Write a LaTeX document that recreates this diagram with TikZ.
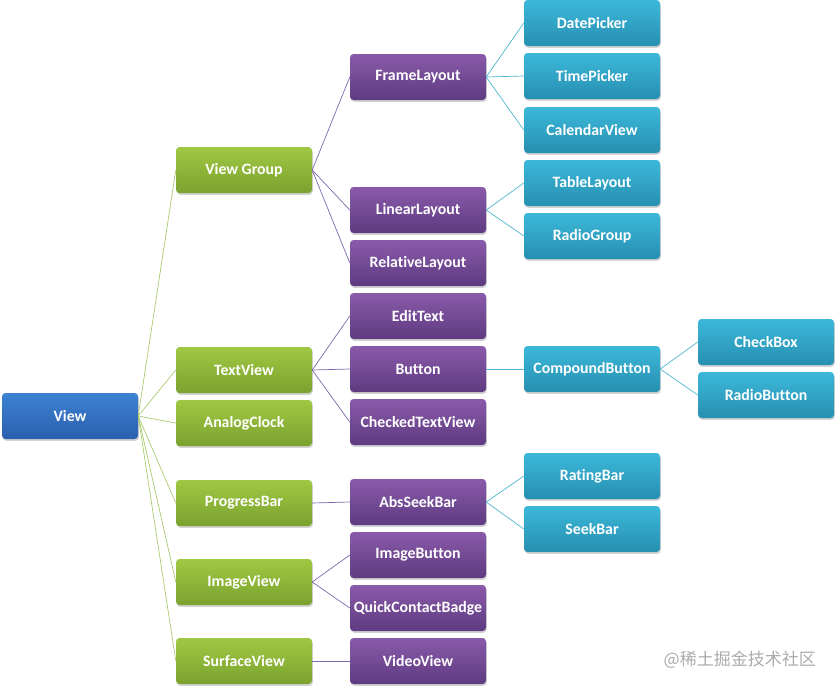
\documentclass[tikz,border=0pt]{standalone}
\usepackage{fontspec}
\setmainfont[Ligatures=NoCommon]{Carlito}
\newfontfamily\cjk{Noto Sans CJK SC}
\usetikzlibrary{shadows}
\definecolor{bluetop}{HTML}{3D82D2}
\definecolor{bluebot}{HTML}{2A5FAE}
\definecolor{greentop}{HTML}{A0C843}
\definecolor{greenbot}{HTML}{7BA22E}
\definecolor{purptop}{HTML}{8A5AAA}
\definecolor{purpbot}{HTML}{5E3B80}
\definecolor{tealtop}{HTML}{3CB8DA}
\definecolor{tealbot}{HTML}{278FB0}
\definecolor{gline}{HTML}{A9CA6E}
\definecolor{pline}{HTML}{7F66AE}
\definecolor{tline}{HTML}{4DB6D0}
\begin{document}
\begin{tikzpicture}[x=1pt,y=-1pt,
  box/.style={rounded corners=3.5pt, minimum width=136pt, minimum height=46pt, inner sep=0pt,
    text=white, font=\bfseries\fontsize{15.8}{16}\selectfont,
    drop shadow={shadow xshift=0.8pt, shadow yshift=-1.8pt, opacity=0.35}},
  bluebox/.style={box, top color=bluetop, bottom color=bluebot},
  greenbox/.style={box, top color=greentop, bottom color=greenbot},
  purpbox/.style={box, top color=purptop, bottom color=purpbot},
  tealbox/.style={box, top color=tealtop, bottom color=tealbot},
  gedge/.style={draw=gline, line width=0.7pt},
  pedge/.style={draw=pline, line width=0.7pt},
  tedge/.style={draw=tline, line width=0.7pt}]
\useasboundingbox (0,0) rectangle (837,689);
% root
\node[bluebox] (view) at (70,416) {View};
% green column
\node[greenbox] (vg) at (244,170) {View Group};
\node[greenbox] (tv) at (244,370) {TextView};
\node[greenbox] (ac) at (244,423) {AnalogClock};
\node[greenbox] (pb) at (244,503) {ProgressBar};
\node[greenbox] (iv) at (244,582) {ImageView};
\node[greenbox] (sv) at (244,661) {SurfaceView};
% purple column
\node[purpbox] (fl) at (418,77) {FrameLayout};
\node[purpbox] (ll) at (418,210) {LinearLayout};
\node[purpbox] (rl) at (418,263) {RelativeLayout};
\node[purpbox] (et) at (418,316) {EditText};
\node[purpbox] (bt) at (418,369) {Button};
\node[purpbox] (ctv) at (418,422) {CheckedTextView};
\node[purpbox] (asb) at (418,502) {AbsSeekBar};
\node[purpbox] (ib) at (418,555) {ImageButton};
\node[purpbox] (qcb) at (418,608) {QuickContactBadge};
\node[purpbox] (vv) at (418,661) {VideoView};
% teal column
\node[tealbox] (dp) at (592,23) {DatePicker};
\node[tealbox] (tp) at (592,76) {TimePicker};
\node[tealbox] (cv) at (592,130) {CalendarView};
\node[tealbox] (tl) at (592,183) {TableLayout};
\node[tealbox] (rg) at (592,236) {RadioGroup};
\node[tealbox] (cb) at (592,369) {CompoundButton};
\node[tealbox] (rb) at (592,476) {RatingBar};
\node[tealbox] (skb) at (592,529) {SeekBar};
% far column
\node[tealbox] (chk) at (766,342) {CheckBox};
\node[tealbox] (rbt) at (766,395) {RadioButton};
% edges
\foreach \c in {vg,tv,ac,pb,iv,sv} \draw[gedge] (view.east) -- (\c.west);
\foreach \c in {fl,ll,rl} \draw[pedge] (vg.east) -- (\c.west);
\foreach \c in {et,bt,ctv} \draw[pedge] (tv.east) -- (\c.west);
\draw[pedge] (pb.east) -- (asb.west);
\foreach \c in {ib,qcb} \draw[pedge] (iv.east) -- (\c.west);
\draw[pedge] (sv.east) -- (vv.west);
\foreach \c in {dp,tp,cv} \draw[tedge] (fl.east) -- (\c.west);
\foreach \c in {tl,rg} \draw[tedge] (ll.east) -- (\c.west);
\draw[tedge] (bt.east) -- (cb.west);
\foreach \c in {rb,skb} \draw[tedge] (asb.east) -- (\c.west);
\foreach \c in {chk,rbt} \draw[tedge] (cb.east) -- (\c.west);
% watermark
\node[text=black!33, font=\cjk\fontsize{17}{17}\selectfont, anchor=east, inner sep=0pt] (wm) at (816,660) {@稀土掘金技术社区};
\end{tikzpicture}
\end{document}
